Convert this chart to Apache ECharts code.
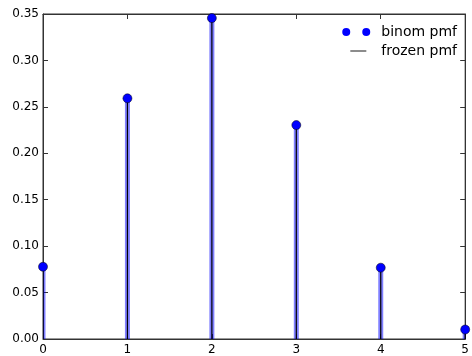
<!DOCTYPE html>
<html>
<head>
<meta charset="utf-8">
<script src="https://cdn.jsdelivr.net/npm/echarts@6/dist/echarts.min.js"></script>
<style>
  html, body { margin: 0; padding: 0; background: #fff; }
  #main { width: 472px; height: 356px; }
</style>
</head>
<body>
<div id="main"></div>
<script>
// binom pmf, n=5, p=0.4
var xs = [0, 1, 2, 3, 4, 5];
var pmf = [0.0778, 0.2592, 0.3456, 0.2304, 0.0768, 0.0102];

var pts = xs.map(function (x, i) { return [x, pmf[i]]; });

// vertical line from 0 up to the value
function stem(width, color) {
    return function (params, api) {
        var top = api.coord([api.value(0), api.value(1)]);
        var base = api.coord([api.value(0), 0]);
        return {
            type: 'rect',
            shape: { x: top[0] - width / 2, y: top[1], width: width, height: base[1] - top[1] },
            style: { fill: color }
        };
    };
}

var axisCol = '#333';
var font = 'DejaVu Sans';

function frameAxis(pos, max, interval) {
    return {
        type: 'value', min: 0, max: max, interval: interval, position: pos,
        axisLine: { show: true, onZero: false, lineStyle: { color: axisCol } },
        axisTick: { show: true, inside: true, length: 5, lineStyle: { color: axisCol } },
        axisLabel: { show: false },
        splitLine: { show: false }
    };
}

var chart = echarts.init(document.getElementById('main'), null, { renderer: 'canvas' });
chart.setOption({
    animation: false,
    grid: { left: 43, right: 4, top: 14, bottom: 16, show: true, borderColor: axisCol, borderWidth: 1 },
    legend: [
        {
            right: 15, top: 25, padding: 0,
            data: [{ name: 'binom pmf', icon: 'path://M0,4a4,4 0 1,0 8,0a4,4 0 1,0 -8,0 M20,4a4,4 0 1,0 8,0a4,4 0 1,0 -8,0',
                     itemStyle: { color: '#0000ff', borderWidth: 0 } }],
            itemWidth: 28, itemHeight: 8,
            textStyle: { fontFamily: font, fontSize: 14, color: '#000', padding: [0, 0, 0, 6] }
        },
        {
            right: 15, top: 44, padding: 0,
            data: [{ name: 'frozen pmf', icon: 'rect', itemStyle: { color: '#666' } }],
            itemWidth: 16, itemHeight: 1.5,
            textStyle: { fontFamily: font, fontSize: 14, color: '#000', padding: [0, 0, 0, 10] }
        }
    ],
    xAxis: [
        {
            type: 'value', min: 0, max: 5, interval: 1,
            axisLine: { lineStyle: { color: axisCol } },
            axisTick: { inside: true, length: 5, lineStyle: { color: axisCol } },
            axisLabel: { color: '#000', fontFamily: font, fontSize: 12, margin: 5 },
            splitLine: { show: false }
        },
        frameAxis('top', 5, 1)
    ],
    yAxis: [
        {
            type: 'value', min: 0, max: 0.35, interval: 0.05,
            axisLine: { show: true, lineStyle: { color: axisCol } },
            axisTick: { show: true, inside: true, length: 5, lineStyle: { color: axisCol } },
            axisLabel: {
                color: '#000', fontFamily: font, fontSize: 12, margin: 4,
                formatter: function (v) { return v.toFixed(2); }
            },
            splitLine: { show: false }
        },
        frameAxis('right', 0.35, 0.05)
    ],
    series: [
        {
            name: 'bstem',
            type: 'custom',
            renderItem: stem(5, 'rgba(0,0,255,0.5)'),
            data: pts,
            clip: true,
            z: 1
        },
        {
            name: 'frozen pmf',
            type: 'custom',
            renderItem: stem(1.2, '#000'),
            data: pts,
            clip: true,
            z: 2
        },
        {
            name: 'binom pmf',
            type: 'scatter',
            data: pts,
            symbol: 'circle',
            symbolSize: 9,
            itemStyle: { color: '#0000ff', borderColor: '#000', borderWidth: 0.5, opacity: 1 },
            clip: true,
            z: 3
        },
        {
            // ties the top and right axes in so their ticks get drawn
            name: 'frame',
            type: 'scatter',
            xAxisIndex: 1,
            yAxisIndex: 1,
            data: [[0, 0]],
            symbolSize: 0,
            silent: true
        }
    ]
});
</script>
</body>
</html>
